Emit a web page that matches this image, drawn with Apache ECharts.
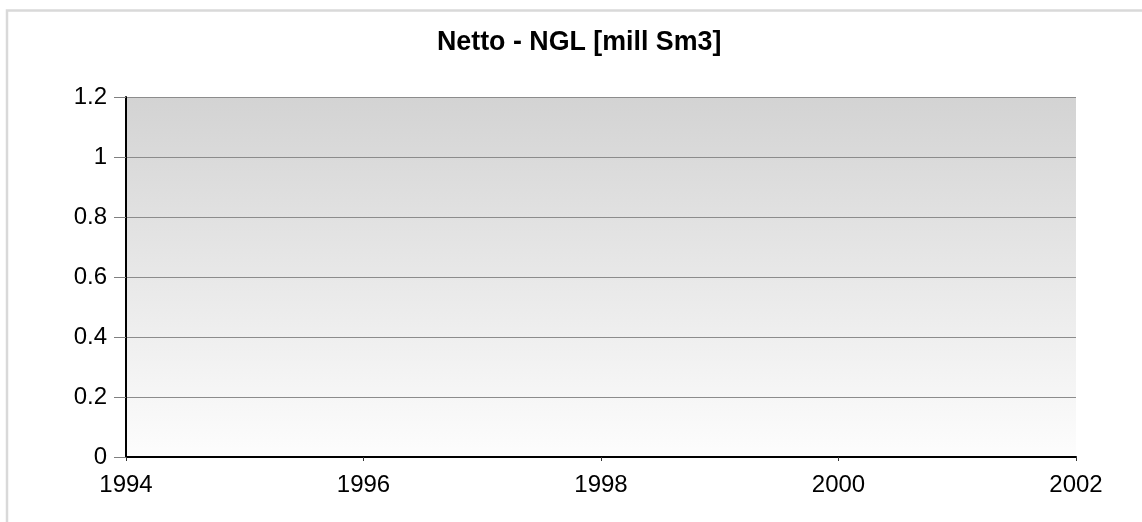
<!DOCTYPE html>
<html>
<head>
<meta charset="utf-8">
<script src="https://cdn.jsdelivr.net/npm/echarts@6/dist/echarts.min.js"></script>
<style>
html,body{margin:0;padding:0;background:#fff;}
#chart{width:1142px;height:522px;}
</style>
</head>
<body>
<div id="chart"></div>
<script>
// Data (the reference chart contains no data points)
const titleText = 'Netto - NGL [mill Sm3]';
const years = [];
const values = [];
const xTicks = [1994, 1996, 1998, 2000, 2002];
const yTicks = [0, 0.2, 0.4, 0.6, 0.8, 1, 1.2];

const chart = echarts.init(document.getElementById('chart'), null, {renderer: 'canvas'});
const font = 'Liberation Sans, Arial, sans-serif';
chart.setOption({
  animation: false,
  backgroundColor: '#ffffff',
  graphic: [{
    type: 'rect',
    shape: {x: 7, y: 10.5, width: 1200, height: 600},
    style: {fill: 'none', stroke: '#d9d9d9', lineWidth: 2.5},
    silent: true,
    z: -10
  }],
  title: {
    text: titleText,
    left: 432,
    top: 24,
    textStyle: {fontFamily: font, fontSize: 26.8, fontWeight: 'bold', color: '#000'}
  },
  grid: {
    left: 126, right: 66, top: 97, bottom: 65,
    show: true,
    borderWidth: 0,
    backgroundColor: {
      type: 'linear', x: 0, y: 0, x2: 0, y2: 1,
      colorStops: [{offset: 0, color: '#d3d3d3'}, {offset: 1, color: '#fdfdfd'}]
    }
  },
  xAxis: {
    type: 'value',
    min: xTicks[0],
    max: xTicks[xTicks.length - 1],
    interval: xTicks[1] - xTicks[0],
    axisLine: {show: true, onZero: false, lineStyle: {color: '#000', width: 2}},
    axisTick: {show: true, length: 4, lineStyle: {color: '#333'}},
    splitLine: {show: false},
    axisLabel: {fontFamily: font, fontSize: 24, color: '#000', margin: 16, formatter: v => String(v)}
  },
  yAxis: {
    type: 'value',
    min: yTicks[0],
    max: yTicks[yTicks.length - 1],
    interval: yTicks[1] - yTicks[0],
    axisLine: {show: true, onZero: false, lineStyle: {color: '#000', width: 2}},
    axisTick: {show: true, length: 12, lineStyle: {color: '#808080'}},
    splitLine: {show: true, lineStyle: {color: '#8c8c8c', width: 1}},
    axisLabel: {fontFamily: font, fontSize: 24, color: '#000', margin: 19,
      formatter: v => String(Math.round(v * 10) / 10)}
  },
  series: [{
    type: 'line',
    data: years.map((y, i) => [y, values[i]]),
    showSymbol: false
  }]
});
</script>
</body>
</html>
